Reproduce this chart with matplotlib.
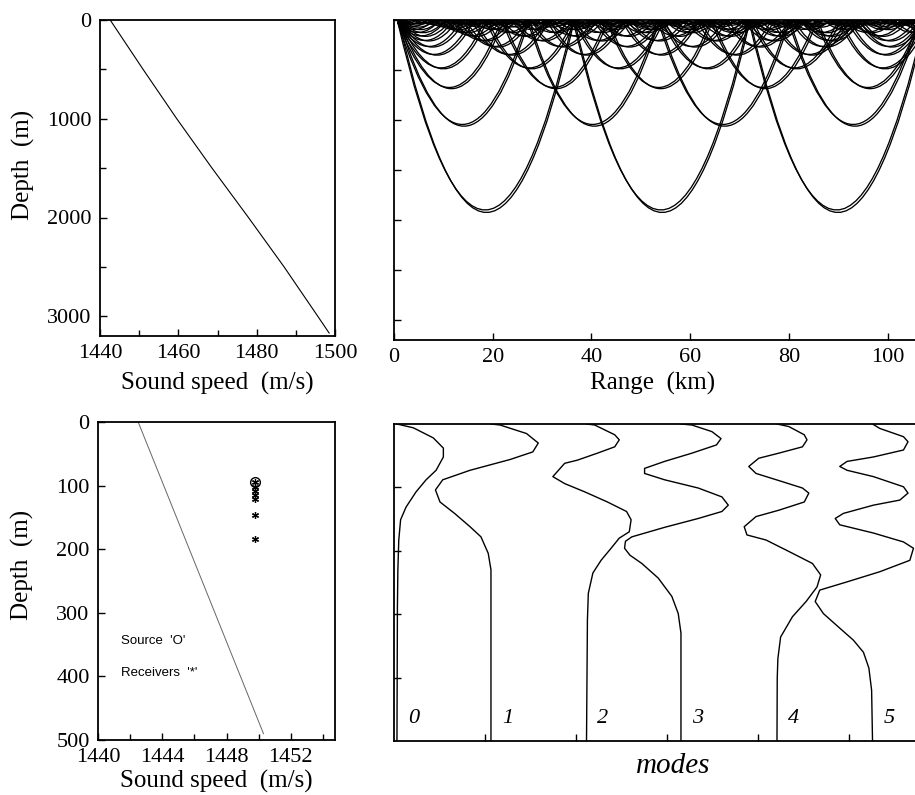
import numpy as np
import matplotlib
matplotlib.use('Agg')
import matplotlib.pyplot as plt
from matplotlib.path import Path
from matplotlib.patches import PathPatch
from matplotlib.ticker import MultipleLocator, FixedLocator, NullFormatter

plt.rcParams['font.family'] = 'serif'
plt.rcParams['font.serif'] = ['Liberation Serif', 'DejaVu Serif']

# deep-water sound speed profile (top left)
deep_depth = [0, 500, 1000, 1500, 2000, 2500, 3000, 3170]
deep_speed = [1442.6, 1451.0, 1459.6, 1468.6, 1477.9, 1487.0, 1495.6, 1498.5]

# ray fan (top right): turning depths (m) of the down-going and up-going ray of each
# pair, and cycle length (km)
ray_turn_depth_down = [1900, 1045, 675, 480, 345, 265, 205, 160, 125, 95, 70, 50, 38, 32]
ray_turn_depth_up = [1925, 1062, 687, 489, 352, 271, 210, 164, 128, 97, 72, 52, 39, 33]
ray_cycle_km = [35.6, 26.4, 21.2, 17.9, 15.2, 13.3, 11.7, 10.3, 9.1, 7.9, 6.8, 5.8, 5.0, 4.6]
source_range_km = 0.8
source_depth_m = 28

# shallow sound speed profile (bottom left)
shallow_depth = [0, 490]
shallow_speed = [1442.5, 1450.3]
source_speed, source_depth = 1449.8, 94
receiver_speed = 1449.8
receiver_depth = [94, 102, 108, 115, 121, 146, 184]

# normal modes (bottom right): depth (m) and amplitude
mode_names = ['0', '1', '2', '3', '4', '5']
mode_offsets = [0.038, 1.071, 2.121, 3.159, 4.214, 5.264]
mode_depth_0 = [0, 6, 22, 38, 46, 52, 73, 88, 107, 131, 151, 183, 230, 289, 500]
mode_amp_0 = [0, .18, .40, .51, .51, .51, .43, .32, .21, .10, .04, .02, .01, .005, 0]
mode_depth_1 = [0, 1.6, 15, 30, 44, 56, 73, 88, 104, 123, 141, 162, 178, 204, 230, 500]
mode_amp_1 = [0, .10, .39, .52, .46, .21, -.23, -.53, -.61, -.56, -.40, -.23, -.11, -.03, 0, 0]
mode_depth_2 = [0, 1.6, 17, 25, 36, 46, 57, 62, 83, 94, 107, 123, 138, 151, 170, 180, 196,
                215, 235, 267, 309, 500]
mode_amp_2 = [0, .09, .31, .36, .31, .12, -.10, -.24, -.37, -.24, -.02, .23, .44, .49, .47,
              .36, .27, .16, .07, .02, .01, 0]
mode_depth_3 = [0, 1.6, 12, 23, 33, 46, 59, 70, 78, 88, 101, 115, 128, 138, 149, 163, 178,
                185, 196, 207, 220, 243, 272, 299, 330, 500]
mode_amp_3 = [0, .12, .34, .44, .39, .12, -.18, -.40, -.40, -.18, .19, .45, .52, .45, .19,
              -.18, -.54, -.61, -.62, -.56, -.43, -.25, -.10, -.03, 0, 0]
mode_depth_4 = [0, 4, 17, 25, 36, 46, 54, 67, 78, 91, 101, 109, 123, 136, 146, 162, 175, 183,
                201, 220, 238, 257, 280, 304, 336, 370, 400, 500]
mode_amp_4 = [0, .13, .30, .33, .28, .02, -.20, -.31, -.23, .06, .28, .35, .30, .02, -.23,
              -.36, -.33, -.12, .13, .39, .48, .44, .32, .17, .04, .01, .003, 0]
mode_depth_5 = [0, 7, 20, 28, 41, 52, 59, 67, 73, 83, 99, 109, 120, 128, 141, 149, 159, 172,
                186, 196, 215, 233, 249, 262, 280, 299, 322, 341, 360, 385, 420, 500]
mode_amp_5 = [0, .08, .34, .39, .34, .01, -.28, -.36, -.28, .01, .34, .39, .30, .01, -.32,
              -.41, -.36, .01, .34, .45, .41, .08, -.28, -.58, -.63, -.54, -.36, -.21, -.10,
              -.04, -.01, 0]
mode_depths = [mode_depth_0, mode_depth_1, mode_depth_2, mode_depth_3, mode_depth_4, mode_depth_5]
mode_amps = [mode_amp_0, mode_amp_1, mode_amp_2, mode_amp_3, mode_amp_4, mode_amp_5]

W, H = 915, 795
fig = plt.figure(figsize=(W / 100, H / 100), dpi=100)


def px_axes(l, t, r, b):
    return fig.add_axes([l / W, 1 - b / H, (r - l) / W, (b - t) / H])


def style(ax):
    for s in ax.spines.values():
        s.set_linewidth(1.3)
    ax.tick_params(which='both', direction='in', width=1, labelsize=16, pad=6)
    ax.tick_params(which='major', length=5)
    ax.tick_params(which='minor', length=4)


def label_at(axis, px, py):
    axis.set_label_coords(px / W, 1 - py / H, transform=fig.transFigure)


def parabola_segment(xv, D, L, xa, xb):
    # quadratic Bezier control points of a parabolic arc with vertex (xv, D)
    a = 4.0 * D / L ** 2
    za = D - a * (xa - xv) ** 2
    zb = D - a * (xb - xv) ** 2
    slope = -2 * a * (xa - xv)
    return [((xa + xb) / 2, za + slope * (xb - xa) / 2), (xb, zb)]


def add_ray(ax, verts):
    codes = [Path.MOVETO] + [Path.CURVE3] * (len(verts) - 1)
    ax.add_patch(PathPatch(Path(verts, codes), fill=False, lw=0.95, ec='k'))


# ---- top left: deep profile
ax1 = px_axes(100, 20, 335, 336)
ax1.plot(deep_speed, deep_depth, color='k', lw=0.8)
ax1.set_xlim(1440, 1500)
ax1.set_ylim(3200, 0)
ax1.xaxis.set_major_locator(MultipleLocator(20))
ax1.xaxis.set_minor_locator(MultipleLocator(10))
ax1.yaxis.set_major_locator(MultipleLocator(1000))
ax1.yaxis.set_minor_locator(MultipleLocator(500))
style(ax1)
ax1.set_xlabel('Sound speed  (m/s)', fontsize=18, va='center')
ax1.set_ylabel('Depth  (m)', fontsize=18, va='center')
label_at(ax1.xaxis, 217, 383)
label_at(ax1.yaxis, 23, 165)

# ---- top right: ray paths
ax2 = px_axes(394, 20, 937, 340)
xmax = 110
x0, zs = source_range_km, source_depth_m
for Dd, Du, L in zip(ray_turn_depth_down, ray_turn_depth_up, ray_cycle_km):
    # ray launched downward
    xv = x0 + L / 2 * np.sqrt(1 - zs / Dd)
    verts = [(x0, zs)] + parabola_segment(xv, Dd, L, x0, xv + L / 2)
    xv += L
    while xv - L / 2 < xmax:
        verts += parabola_segment(xv, Dd, L, xv - L / 2, xv + L / 2)
        xv += L
    add_ray(ax2, verts)
    # ray launched upward, reflected at the surface
    xu = x0 + L / 2 * (1 - np.sqrt(1 - zs / Du))
    verts = [(x0, zs)] + parabola_segment(xu - L / 2, Du, L, x0, xu)
    xv = xu + L / 2
    while xv - L / 2 < xmax:
        verts += parabola_segment(xv, Du, L, xv - L / 2, xv + L / 2)
        xv += L
    add_ray(ax2, verts)
ax2.set_xlim(0, xmax)
ax2.set_ylim(3200, 0)
ax2.xaxis.set_major_locator(MultipleLocator(20))
ax2.yaxis.set_major_locator(MultipleLocator(500))
ax2.yaxis.set_major_formatter(NullFormatter())
style(ax2)
ax2.set_xlabel('Range  (km)', fontsize=18, va='center')
label_at(ax2.xaxis, 653, 383)

# ---- bottom left: shallow profile with source / receivers
ax3 = px_axes(98, 422, 335, 740)
ax3.plot(shallow_speed, shallow_depth, color='0.4', lw=0.7)
ax3.plot(source_speed, source_depth, marker='o', ms=7, mfc='none', mec='k', mew=1.0)
ax3.plot([receiver_speed] * len(receiver_depth), receiver_depth, ls='none',
         marker=(6, 2, 0), ms=5, mec='k', mew=0.9)
ax3.text(1441.45, 344, "Source  'O'", family=['Liberation Sans', 'DejaVu Sans'],
         fontsize=9.5, va='center')
ax3.text(1441.45, 395, "Receivers  '*'", family=['Liberation Sans', 'DejaVu Sans'],
         fontsize=9.5, va='center')
ax3.set_xlim(1440, 1454.75)
ax3.set_ylim(500, 0)
ax3.xaxis.set_major_locator(MultipleLocator(4))
ax3.xaxis.set_minor_locator(MultipleLocator(2))
ax3.yaxis.set_major_locator(MultipleLocator(100))
style(ax3)
ax3.set_xlabel('Sound speed  (m/s)', fontsize=18, va='center')
ax3.set_ylabel('Depth  (m)', fontsize=18, va='center')
label_at(ax3.xaxis, 216, 781)
label_at(ax3.yaxis, 22, 565)

# ---- bottom right: mode shapes
ax4 = px_axes(393.5, 424, 939.5, 741)
for name, off, d, a in zip(mode_names, mode_offsets, mode_depths, mode_amps):
    ax4.plot(np.array(a) + off, d, color='k', lw=1.0)
    ax4.text(off + 0.18, 465, name, fontsize=16, style='italic', ha='center', va='center')
ax4.set_xlim(0, 6)
ax4.set_ylim(500, 0)
ax4.xaxis.set_major_locator(FixedLocator([1, 2, 3, 4, 5]))
ax4.yaxis.set_major_locator(FixedLocator([100, 200, 300, 400]))
ax4.xaxis.set_major_formatter(NullFormatter())
ax4.yaxis.set_major_formatter(NullFormatter())
style(ax4)
ax4.set_xlabel('modes', fontsize=21, style='italic', va='center')
label_at(ax4.xaxis, 673, 766)

fig.savefig('out.png', dpi=100)
